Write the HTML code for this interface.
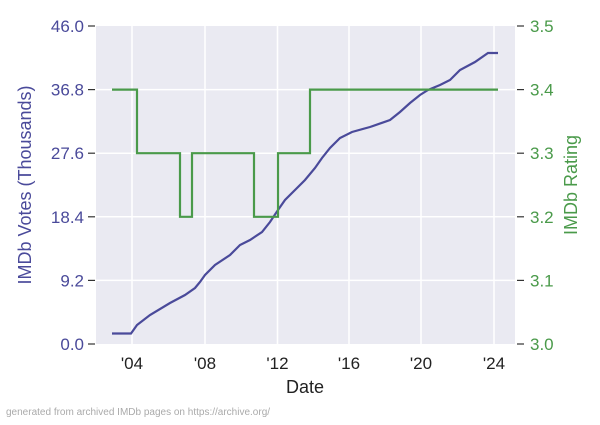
<!DOCTYPE html><html><head><style>body{margin:0;background:#fff}</style></head><body>
<svg width="600" height="420" xmlns="http://www.w3.org/2000/svg" font-family="Liberation Sans, Arial, sans-serif">
<rect x="96" y="26" width="419" height="318" fill="#eaeaf2"/>
<g stroke="#fff" stroke-width="1.5">
<line x1="132" y1="26" x2="132" y2="344"/><line x1="205" y1="26" x2="205" y2="344"/><line x1="277.5" y1="26" x2="277.5" y2="344"/><line x1="349" y1="26" x2="349" y2="344"/><line x1="421" y1="26" x2="421" y2="344"/><line x1="494" y1="26" x2="494" y2="344"/>
<line x1="96" y1="89.6" x2="515" y2="89.6"/><line x1="96" y1="153.2" x2="515" y2="153.2"/><line x1="96" y1="216.8" x2="515" y2="216.8"/><line x1="96" y1="280.4" x2="515" y2="280.4"/>
</g>
<g stroke="#333" stroke-width="1.2">
<line x1="88" y1="26" x2="95" y2="26"/><line x1="88" y1="89.6" x2="95" y2="89.6"/><line x1="88" y1="153.2" x2="95" y2="153.2"/><line x1="88" y1="216.8" x2="95" y2="216.8"/><line x1="88" y1="280.4" x2="95" y2="280.4"/><line x1="88" y1="344" x2="95" y2="344"/>
<line x1="517" y1="26" x2="524" y2="26"/><line x1="517" y1="89.6" x2="524" y2="89.6"/><line x1="517" y1="153.2" x2="524" y2="153.2"/><line x1="517" y1="216.8" x2="524" y2="216.8"/><line x1="517" y1="280.4" x2="524" y2="280.4"/><line x1="517" y1="344" x2="524" y2="344"/>
</g>
<g fill="#4a4a9a" font-size="17" text-anchor="end">
<text x="84" y="32">46.0</text><text x="84" y="95.6">36.8</text><text x="84" y="159.2">27.6</text><text x="84" y="222.8">18.4</text><text x="84" y="286.4">9.2</text><text x="84" y="350">0.0</text>
</g>
<g fill="#4a9a4a" font-size="17">
<text x="530" y="32">3.5</text><text x="530" y="95.6">3.4</text><text x="530" y="159.2">3.3</text><text x="530" y="222.8">3.2</text><text x="530" y="286.4">3.1</text><text x="530" y="350">3.0</text>
</g>
<g fill="#222" font-size="17" text-anchor="middle">
<text x="132" y="369">'04</text><text x="205" y="369">'08</text><text x="277.5" y="369">'12</text><text x="349" y="369">'16</text><text x="421" y="369">'20</text><text x="494" y="369">'24</text>
<text x="305" y="393" font-size="18">Date</text>
</g>
<text transform="translate(31,185) rotate(-90)" fill="#4a4a9a" font-size="18" text-anchor="middle">IMDb Votes (Thousands)</text>
<text transform="translate(577,185) rotate(-90)" fill="#4a9a4a" font-size="18" text-anchor="middle">IMDb Rating</text>
<text x="6" y="415" fill="#aaa" font-size="10">generated from archived IMDb pages on https://archive.org/</text>
<polyline fill="none" stroke="#4a4a9a" stroke-width="2.2" points="112,333.5 131,333.5 137,325 150,315 170,303 185,295 195,288 200,282 205,275 215,265 230,255 240,245 250,240 262,232 270,222 278,210 285,200 295,190 305,180 315,168 322,158 330,148 340,138 352,132 370,127 390,120 400,112 410,103 420,95 428,90 440,85 450,80 460,70 475,62 488,53 498,53"/>
<polyline fill="none" stroke="#4a9a4a" stroke-width="2.2" points="112,89.6 137,89.6 137,153.2 180,153.2 180,216.8 192,216.8 192,153.2 254,153.2 254,216.8 278,216.8 278,153.2 310,153.2 310,89.6 498,89.6"/>
</svg>
</body></html>
